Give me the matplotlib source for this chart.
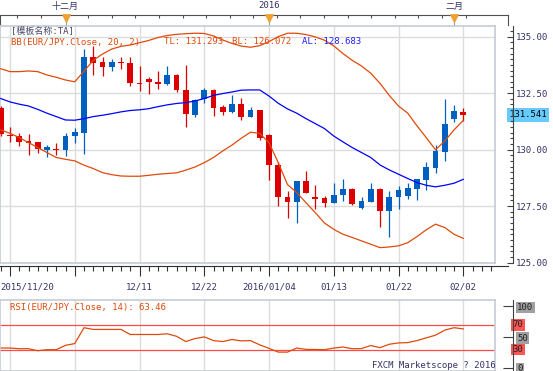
import numpy as np
import matplotlib
matplotlib.use("Agg")
import matplotlib.pyplot as plt
import matplotlib.transforms as mtransforms
from matplotlib.ticker import MultipleLocator

plt.rcParams["font.family"] = ["DejaVu Sans Mono", "Noto Sans CJK SC"]

# candles, index -1 .. 49 (index 0 = 2015/11/20, index 49 = 2016/02/02)
opens = [131.86, 130.64, 130.60, 130.38, 130.34, 129.99, 130.03, 129.99, 130.58, 130.75,
         134.10, 133.88, 133.67, 133.89, 133.82, 132.95, 133.11, 132.99, 132.92, 133.29,
         132.63, 131.52, 132.26, 132.64, 131.89, 131.67, 132.01, 131.46, 131.74, 130.65,
         129.31, 127.92, 127.70, 128.60, 127.91, 127.85, 127.65, 127.98, 128.24, 127.43,
         127.70, 128.24, 127.26, 127.88, 127.95, 128.27, 128.66, 129.20, 129.91, 131.37,
         131.68]
highs = [131.92, 131.00, 130.75, 130.71, 130.34, 130.19, 130.28, 130.72, 130.96, 134.47,
         134.59, 134.10, 134.00, 134.12, 134.12, 133.70, 133.22, 133.48, 133.70, 133.33,
         133.73, 132.26, 132.74, 132.67, 131.98, 132.40, 132.30, 131.89, 131.74, 130.68,
         129.45, 128.17, 128.60, 129.03, 128.44, 127.95, 128.54, 128.69, 128.32, 127.88,
         128.54, 128.32, 128.17, 128.39, 128.51, 128.69, 129.45, 130.19, 132.26, 131.98,
         131.86]
lows = [130.62, 130.34, 130.16, 129.76, 129.84, 129.65, 129.75, 129.72, 130.31, 129.82,
        133.30, 133.26, 133.48, 133.55, 132.82, 132.60, 132.45, 132.70, 132.85, 132.57,
        131.02, 131.46, 132.08, 131.49, 131.53, 131.61, 131.31, 131.46, 130.43, 128.66,
        127.51, 126.99, 126.77, 128.10, 127.36, 127.48, 127.65, 127.73, 127.55, 127.36,
        127.70, 126.59, 126.15, 127.39, 127.83, 127.77, 128.22, 128.95, 129.50, 131.24,
        131.27]
closes = [130.68, 130.60, 130.35, 130.31, 130.01, 130.10, 130.00, 130.60, 130.78, 134.10,
          133.85, 133.67, 133.88, 133.82, 132.94, 132.92, 132.99, 132.92, 133.29, 132.63,
          131.59, 132.20, 132.64, 131.86, 131.67, 132.01, 131.46, 131.74, 130.53, 129.31,
          127.92, 127.70, 128.60, 128.10, 127.83, 127.65, 127.98, 128.24, 127.61, 127.71,
          128.24, 127.29, 127.91, 128.22, 128.29, 128.69, 129.23, 129.94, 131.12, 131.71,
          131.541]

bb_upper = [133.58, 133.45, 133.45, 133.48, 133.45, 133.30, 133.20, 133.08, 133.00, 133.47,
            133.95, 134.23, 134.45, 134.57, 134.63, 134.73, 134.83, 134.96, 135.05, 135.10,
            135.13, 135.15, 135.14, 135.03, 134.85, 134.70, 134.58, 134.53, 134.60, 134.78,
            135.00, 135.15, 135.15, 135.09, 134.99, 134.84, 134.59, 134.25, 133.95, 133.70,
            133.38, 132.93, 132.40, 131.93, 131.61, 131.05, 130.53, 129.99, 130.38, 130.87,
            131.293]
bb_mid = [132.26, 132.11, 132.01, 131.93, 131.78, 131.61, 131.46, 131.31, 131.30, 131.37,
          131.46, 131.52, 131.59, 131.67, 131.73, 131.76, 131.81, 131.90, 131.98, 132.04,
          132.08, 132.15, 132.26, 132.40, 132.48, 132.55, 132.63, 132.64, 132.64, 132.37,
          132.05, 131.80, 131.61, 131.37, 131.15, 130.93, 130.60, 130.34, 130.09, 129.87,
          129.65, 129.32, 129.10, 128.91, 128.72, 128.54, 128.42, 128.35, 128.42, 128.51,
          128.683]
bb_lower = [130.87, 130.72, 130.53, 130.31, 130.09, 129.87, 129.65, 129.57, 129.50, 129.31,
            129.16, 128.98, 128.89, 128.83, 128.82, 128.82, 128.86, 128.91, 128.94, 128.97,
            129.09, 129.23, 129.42, 129.65, 129.94, 130.20, 130.50, 130.77, 130.72, 130.30,
            129.42, 128.45, 128.10, 127.65, 127.21, 126.75, 126.47, 126.25, 126.11, 125.96,
            125.81, 125.66, 125.69, 125.74, 125.88, 126.15, 126.45, 126.70, 126.55, 126.25,
            126.072]

rsi = [32.4, 32.4, 31.3, 31.3, 28.0, 29.7, 29.7, 36.8, 39.6, 65.4,
       62.6, 62.6, 62.6, 62.6, 54.4, 54.4, 54.4, 54.4, 55.5, 51.5,
       42.9, 47.8, 50.5, 44.5, 42.9, 46.2, 44.0, 44.5, 37.5, 31.9,
       25.8, 25.8, 32.4, 30.2, 30.0, 29.7, 32.4, 34.0, 31.3, 31.5,
       36.5, 33.0, 38.5, 40.7, 41.2, 44.5, 48.9, 53.3, 61.5, 65.4,
       63.46]

date_ticks = [0, 7, 14, 21, 28, 35, 42, 49]
date_labels = ["2015/11/20", "", "12/11", "12/22", "2016/01/04", "01/13", "01/22", "02/02"]
month_ticks = [6, 28, 48]
month_labels = ["十二月", "2016", "二月"]

idx = np.arange(-1, len(closes) - 1)

W, H = 553, 371
RED = "#DD0000"
BLUE = "#0060C0"
BAND = "#E04A0A"
MID = "#0000FF"
TXT = "#333366"
GRID = "#DCDCDC"
FRAME = "#C5CCD5"


def box(x0, y0, x1, y1):
    return [x0 / W, 1 - y1 / H, (x1 - x0) / W, (y1 - y0) / H]


def xlim_for(width_px):
    # candle 0 sits at 10 px, one candle every 9.25 px
    return (-10 / 9.25, (width_px - 10) / 9.25)


fig = plt.figure(figsize=(W / 100, H / 100), dpi=100)

# top month strip
ax_top = fig.add_axes(box(0, 15, 508, 25))
ax_top.set_xlim(*xlim_for(508))
ax_top.set_ylim(0, 1)
ax_top.set_facecolor("none")
ax_top.spines["bottom"].set_visible(False)
for s in ["top", "left", "right"]:
    ax_top.spines[s].set_color("#505050")
ax_top.xaxis.set_ticks_position("top")
ax_top.set_xticks(np.arange(0.8, 51, 2.55))
ax_top.tick_params(axis="x", direction="in", length=2.2, width=0.8, color="#505050",
                   labeltop=False)
ax_top.set_yticks([])
ax_top.vlines(month_ticks, -0.2, 0.5, color="#999999", lw=0.8, clip_on=False)
ax_top.scatter(month_ticks, [0.72] * 3, marker="v", s=28, color="#F0A030", zorder=3,
               clip_on=False)
for m, lab in zip(month_ticks, month_labels):
    ax_top.text(m, 1.9, lab, ha="center", va="center", fontsize=6.5, color=TXT)

# main price panel
ax = fig.add_axes(box(0, 26, 495, 263))
ax.set_xlim(*xlim_for(495))
ax.set_ylim(124.98, 135.47)
ax.set_xticks(date_ticks)
ax.set_yticks([125, 127.5, 130, 132.5, 135])
ax.grid(True, color=GRID, lw=1)
ax.set_axisbelow(True)
ax.tick_params(length=0, labelleft=False, labelbottom=False)
for s in ax.spines.values():
    s.set_color(FRAME)
    s.set_linewidth(1.2)

cols = [BLUE if c >= o else RED for o, c in zip(opens, closes)]
bottoms = [min(o, c) for o, c in zip(opens, closes)]
heights = [max(abs(c - o), 0.04) for o, c in zip(opens, closes)]
ax.vlines(idx, lows, highs, colors=cols, lw=0.9, zorder=3)
ax.bar(idx, heights, bottom=bottoms, width=0.62, color=cols, linewidth=0, zorder=4)
ax.plot(idx, bb_upper, color=BAND, lw=0.9, zorder=5)
ax.plot(idx, bb_lower, color=BAND, lw=0.9, zorder=5)
ax.plot(idx, bb_mid, color=MID, lw=0.9, zorder=5)

ax2 = ax.twinx()
ax2.set_ylim(ax.get_ylim())
for s in ["top", "left", "bottom"]:
    ax2.spines[s].set_visible(False)
ax2.spines["right"].set_position(("outward", 13))
ax2.spines["right"].set_color("#404040")
ax2.set_yticks([125, 127.5, 130, 132.5, 135])
ax2.set_yticklabels(["125.00", "127.50", "130.00", "132.50", "135.00"])
ax2.yaxis.set_minor_locator(MultipleLocator(0.25))
ax2.tick_params(axis="y", which="major", direction="in", length=4.5, width=0.8,
                color="#404040", labelsize=6.5, labelcolor=TXT, pad=2)
ax2.tick_params(axis="y", which="minor", direction="in", length=2.5, width=0.8,
                color="#404040")

price_tf = mtransforms.blended_transform_factory(fig.transFigure, ax.transData)
ax.text(509.5 / W, closes[-1], f"{closes[-1]:.3f}", transform=price_tf, ha="left",
        va="center", fontsize=6.5, color="black", clip_on=False, zorder=10,
        bbox=dict(boxstyle="square,pad=0.25", facecolor="#66CCFF", edgecolor="none"))

fig.text(11 / W, 1 - 31 / H, "[模板名称:TA]", ha="left", va="center", fontsize=6.5,
         color="#4A4A6A")
fig.text(11 / W, 1 - 42 / H, "BB(EUR/JPY.Close, 20, 2)", ha="left", va="center",
         fontsize=6.5, color=BAND)
fig.text(164 / W, 1 - 42 / H, f"TL: {bb_upper[-1]:.3f}", ha="left", va="center",
         fontsize=6.5, color=BAND)
fig.text(232 / W, 1 - 42 / H, f"BL: {bb_lower[-1]:.3f}", ha="left", va="center",
         fontsize=6.5, color=BAND)
fig.text(302 / W, 1 - 42 / H, f"AL: {bb_mid[-1]:.3f}", ha="left", va="center",
         fontsize=6.5, color="#2222FF")

# date axis strip
ax_time = fig.add_axes(box(0, 265.5, 508, 276))
ax_time.set_xlim(*xlim_for(508))
ax_time.set_facecolor("none")
for s in ["bottom", "left", "right"]:
    ax_time.spines[s].set_visible(False)
ax_time.spines["top"].set_color("#303030")
ax_time.xaxis.set_ticks_position("top")
ax_time.set_xticks(date_ticks)
ax_time.set_xticks(np.arange(-1, 53), minor=True)
ax_time.tick_params(axis="x", which="major", direction="in", length=7.5, width=0.8,
                    color="#303030", labeltop=False)
ax_time.tick_params(axis="x", which="minor", direction="in", length=3.5, width=0.8,
                    color="#303030")
ax_time.set_yticks([])
date_tf = mtransforms.blended_transform_factory(ax_time.transData, fig.transFigure)
for t, lab in zip(date_ticks, date_labels):
    if t == date_ticks[0]:
        fig.text(0.5 / W, 1 - 287 / H, lab, ha="left", va="center", fontsize=6.5,
                 color=TXT)
    else:
        ax_time.text(t, 1 - 287 / H, lab, transform=date_tf, ha="center", va="center",
                     fontsize=6.5, color=TXT)

# RSI panel
ax_r = fig.add_axes(box(0, 300, 495, 371))
ax_r.set_xlim(*xlim_for(495))
ax_r.set_ylim(-4.9, 110.4)
ax_r.set_xticks(date_ticks)
ax_r.grid(True, axis="x", color=GRID, lw=1)
ax_r.set_axisbelow(True)
ax_r.set_yticks([])
ax_r.tick_params(length=0, labelbottom=False)
for s in ax_r.spines.values():
    s.set_color(FRAME)
    s.set_linewidth(1.2)
ax_r.axhline(70, color="#FF4A4A", lw=0.9)
ax_r.axhline(30, color="#FF4A4A", lw=0.9)
ax_r.plot(idx, rsi, color=BAND, lw=0.9)
ax_r.text(10 / 495, 1 - 7.5 / 71, f"RSI(EUR/JPY.Close, 14): {rsi[-1]:.2f}",
          transform=ax_r.transAxes, ha="left", va="center", fontsize=6.5, color=BAND)
ax_r.text(496 / 495, 1 - 66 / 71, "FXCM Marketscope ? 2016", transform=ax_r.transAxes,
          ha="right", va="center", fontsize=6.5, color=TXT)

ax_r2 = ax_r.twinx()
ax_r2.set_ylim(ax_r.get_ylim())
for s in ["top", "left", "bottom"]:
    ax_r2.spines[s].set_visible(False)
ax_r2.spines["right"].set_position(("outward", 13))
ax_r2.spines["right"].set_color("#404040")
ax_r2.set_yticks([0, 50, 100])
ax_r2.set_yticklabels(["0", "50", "100"])
ax_r2.tick_params(axis="y", direction="in", length=7, width=0.8, color="#404040",
                  labelsize=6.5, labelcolor="#202020", pad=3)
for lbl in ax_r2.get_yticklabels():
    lbl.set_bbox(dict(boxstyle="square,pad=0.15", facecolor="#A0A0A0", edgecolor="none"))
rsi_tf = mtransforms.blended_transform_factory(fig.transFigure, ax_r.transData)
for lvl in [70, 30]:
    ax_r.text(512.5 / W, lvl, str(lvl), transform=rsi_tf, ha="left", va="center",
              fontsize=6.5, color="#202020", clip_on=False,
              bbox=dict(boxstyle="square,pad=0.15", facecolor="#FF5555", edgecolor="none"))

fig.savefig("out.png", dpi=100)
